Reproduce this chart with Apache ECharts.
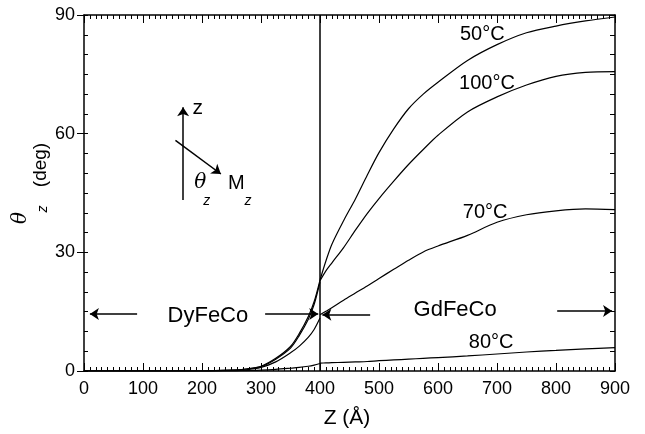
<!DOCTYPE html>
<html>
<head>
<meta charset="utf-8">
<script src="https://cdn.jsdelivr.net/npm/echarts@6/dist/echarts.min.js"></script>
<style>
  html, body { margin: 0; background: #fff; }
  #chart { width: 645px; height: 434px; }
</style>
</head>
<body>
<div id="chart"></div>
<script>
// depth Z (Å) - DyFeCo side and GdFeCo side of the interface at 400
const zLeft = [0, 100, 200, 250, 275, 300, 325, 350, 365, 380, 390, 400];
const zRight = [400, 410, 420, 440, 460, 480, 500, 525, 550, 575, 600, 650, 700, 750, 800, 850, 900];

// theta_z (deg)
const t50Left = [0, 0, 0, 0.2, 0.5, 1.2, 3.2, 6.2, 9.5, 13.7, 17.5, 23];
const t50Right = [23, 27.8, 32, 38, 43.5, 49.5, 55.2, 61.2, 66.3, 70, 73, 78.5, 82.5, 85.5, 87.2, 88.5, 89.5];
const t100Left = [0, 0, 0, 0.2, 0.5, 1.1, 3.0, 5.8, 9.0, 13.0, 16.8, 22.5];
const t100Right = [22.8, 25.3, 27.3, 31.2, 35.6, 39.8, 43.6, 48, 52.2, 56, 59.6, 65.5, 69.3, 72.3, 74.5, 75.5, 75.7];
const t70Left = [0, 0, 0, 0.1, 0.3, 0.9, 2.3, 4.6, 6.3, 8.5, 10.5, 13.4];
const t70Right = [14.2, 15.1, 16.0, 17.9, 19.7, 21.5, 23.4, 25.7, 28.0, 30.1, 31.6, 34.3, 37.6, 39.5, 40.5, 41.0, 40.8];
const t80Left = [0, 0, 0, 0, 0.1, 0.2, 0.4, 0.7, 0.9, 1.2, 1.5, 1.9];
const t80Right = [2.0, 2.05, 2.1, 2.2, 2.3, 2.4, 2.6, 2.8, 3.0, 3.2, 3.4, 3.8, 4.3, 4.8, 5.2, 5.6, 5.9];

const seriesNames = ["50°C", "100°C", "70°C", "80°C"];

const FONT = "Liberation Sans, Arial, sans-serif";

function pairs(xs, ys) {
  return xs.map((x, i) => [x, ys[i]]);
}

function curve(name, xs, ys) {
  return {
    name: name,
    type: "line",
    showSymbol: false,
    silent: true,
    smooth: 0.3,
    lineStyle: { color: "#000", width: 1.2 },
    data: pairs(xs, ys),
  };
}

const arrowLine = (from, to) => [{ coord: from, symbol: "none" }, { coord: to, symbol: "arrow" }];

// tick rows: keep (invisible) labels so the ticks are kept, and onZero off
// so every axis stays on its own side of the box
function tickAxis(kind, pos, step, len, extra) {
  const max = kind === "x" ? 900 : 90;
  return Object.assign({
    type: "value", min: 0, max: max, interval: step, position: pos,
    axisLine: { show: false, onZero: false },
    axisTick: { show: true, inside: true, interval: 0, length: len, lineStyle: { color: "#000", width: 1 } },
    axisLabel: { show: true, interval: 0, color: "rgba(0,0,0,0)", fontSize: 1 },
    splitLine: { show: false },
  }, extra || {});
}

const axisLineStyle = { show: true, onZero: false, lineStyle: { color: "#000", width: 1.5 } };
const labelStyle = { show: true, color: "#000", fontSize: 18, fontFamily: FONT, margin: 9 };

const options = {
  animation: false,
  backgroundColor: "#fff",
  grid: { left: 84, right: 30, top: 15, bottom: 63 },
  xAxis: [
    tickAxis("x", "bottom", 100, 8, { axisLine: axisLineStyle, axisLabel: labelStyle }),
    tickAxis("x", "bottom", 10, 4),
    tickAxis("x", "top", 100, 8, { axisLine: axisLineStyle }),
    tickAxis("x", "top", 10, 4),
  ],
  yAxis: [
    tickAxis("y", "left", 30, 7, {
      axisLine: axisLineStyle,
      axisLabel: labelStyle,
      axisTick: { show: true, inside: false, interval: 0, length: 7, lineStyle: { color: "#000", width: 1 } },
    }),
    tickAxis("y", "left", 5, 4),
    tickAxis("y", "right", 5, 5, { axisLine: axisLineStyle }),
  ],
  series: [
    curve(seriesNames[0], zLeft, t50Left),
    curve(seriesNames[0], zRight, t50Right),
    curve(seriesNames[1], zLeft, t100Left),
    curve(seriesNames[1], zRight, t100Right),
    curve(seriesNames[2], zLeft, t70Left),
    curve(seriesNames[2], zRight, t70Right),
    curve(seriesNames[3], zLeft, t80Left),
    curve(seriesNames[3], zRight, t80Right),
    {
      // interface line + region arrows + inset arrows
      type: "line",
      data: [],
      silent: true,
      markLine: {
        silent: true,
        symbol: ["none", "arrow"],
        symbolSize: 9,
        label: { show: false },
        emphasis: { disabled: true },
        lineStyle: { color: "#000", width: 1.5, type: "solid" },
        data: [
          [{ coord: [400, 0], symbol: "none" }, { coord: [400, 90], symbol: "none" }],
          arrowLine([90, 14.4], [10, 14.4]),
          arrowLine([307, 14.4], [397, 14.4]),
          arrowLine([485, 14.2], [404, 14.2]),
          arrowLine([802, 15.2], [895, 15.2]),
          arrowLine([168, 43.2], [168, 66.7]),
          arrowLine([155, 58.3], [232, 49.8]),
        ],
      },
    },
  ],
};

const chart = echarts.init(document.querySelector("#chart"));
chart.setOption(options);

// text annotations placed in data coordinates
const notes = [
  { text: "50°C", at: [675, 85.2], size: 20 },
  { text: "100°C", at: [683, 72.8], size: 20 },
  { text: "70°C", at: [680, 40.2], size: 20 },
  { text: "80°C", at: [690, 7.3], size: 20 },
  { text: "DyFeCo", at: [210, 13.9], size: 22 },
  { text: "GdFeCo", at: [629, 15.4], size: 22 },
  { text: "z", at: [193, 66.5], size: 21 },
  { text: "M", at: [258, 47.5], size: 20 },
  { text: "θ", at: [197, 47.5], size: 20, italic: true, font: "DejaVu Serif, serif" },
  { text: "z", at: [208, 43.0], size: 14, italic: true },
  { text: "z", at: [278, 43.0], size: 14, italic: true },
];

const graphics = notes.map((n) => {
  const p = chart.convertToPixel({ gridIndex: 0 }, n.at);
  return {
    type: "text",
    x: p[0],
    y: p[1],
    silent: true,
    style: {
      text: n.text,
      fill: "#000",
      font: (n.italic ? "italic " : "") + n.size + "px " + (n.font || FONT),
      align: "center",
      verticalAlign: "middle",
    },
  };
});

// axis titles
graphics.push(
  {
    type: "text", x: 347, y: 418, silent: true,
    style: { text: "Z (Å)", fill: "#000", font: "21px " + FONT, align: "center", verticalAlign: "middle" },
  },
  {
    type: "text", x: 21, y: 218, rotation: Math.PI / 2, silent: true,
    style: { text: "θ", fill: "#000", font: "italic 20px DejaVu Serif, serif", align: "center", verticalAlign: "middle" },
  },
  {
    type: "text", x: 43, y: 209, rotation: Math.PI / 2, silent: true,
    style: { text: "z", fill: "#000", font: "italic 14px " + FONT, align: "center", verticalAlign: "middle" },
  },
  {
    type: "text", x: 41, y: 165, rotation: Math.PI / 2, silent: true,
    style: { text: "(deg)", fill: "#000", font: "19px " + FONT, align: "center", verticalAlign: "middle" },
  }
);

chart.setOption({ graphic: graphics });
</script>
</body>
</html>
